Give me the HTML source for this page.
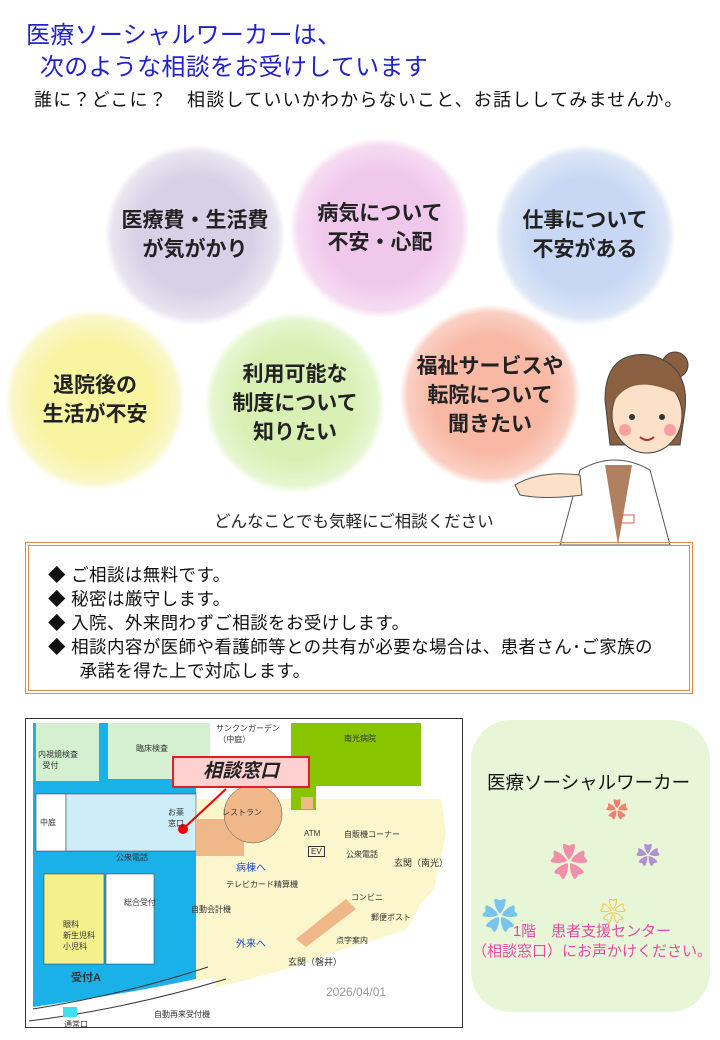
<!DOCTYPE html>
<html><head><meta charset="utf-8"><style>
body{margin:0;width:720px;height:1040px;background:#fff;position:relative;overflow:hidden;font-family:"Liberation Sans","Noto Sans CJK JP",sans-serif}
.a{position:absolute}
.c{position:absolute;border-radius:50%;display:flex;align-items:center;justify-content:center;text-align:center;font-weight:bold;font-size:21px;line-height:29px;color:#222}
.m{position:absolute;font-size:8px;color:#333;white-space:nowrap}
</style></head><body>
<div class="a" style="left:26px;top:20px;font-size:24px;color:#2222cc;line-height:32px;white-space:nowrap;letter-spacing:0.3px">医療ソーシャルワーカーは、<br>&nbsp;&nbsp;次のような相談をお受けしています</div>
<div class="a" style="left:34px;top:86px;font-size:18px;color:#111;white-space:nowrap;letter-spacing:1.2px">誰に？どこに？　相談していいかわからないこと、お話ししてみませんか。</div>

<div class="c" style="left:105px;top:145px;width:180px;height:180px;background:radial-gradient(circle,#d8d0e6 45%,#e8e4f0 65%,rgba(255,255,255,0) 71%)">医療費・生活費<br>が気がかり</div>
<div class="c" style="left:290px;top:138px;width:180px;height:180px;background:radial-gradient(circle,#f0c8ec 45%,#f6dcf2 65%,rgba(255,255,255,0) 71%)">病気について<br>不安・心配</div>
<div class="c" style="left:495px;top:145px;width:180px;height:180px;background:radial-gradient(circle,#c8d8f4 45%,#dce6f6 65%,rgba(255,255,255,0) 71%)">仕事について<br>不安がある</div>
<div class="c" style="left:5px;top:310px;width:180px;height:180px;background:radial-gradient(circle,#f8f4a0 45%,#faf6c8 65%,rgba(255,255,255,0) 71%)">退院後の<br>生活が不安</div>
<div class="c" style="left:205px;top:313px;width:180px;height:180px;background:radial-gradient(circle,#d8f0b4 45%,#e6f6d0 65%,rgba(255,255,255,0) 71%)">利用可能な<br>制度について<br>知りたい</div>
<div class="c" style="left:400px;top:305px;width:180px;height:180px;background:radial-gradient(circle,#f8b8a4 45%,#fad0c4 65%,rgba(255,255,255,0) 71%)">福祉サービスや<br>転院について<br>聞きたい</div>

<!-- nurse -->
<svg class="a" style="left:510px;top:345px" width="210" height="200">
<path d="M50 200 L70 125 Q105 105 140 125 L160 200 Z" fill="#fff" stroke="#555"/>
<path d="M95 120 L108 200 L122 120 Z" fill="#b08060"/>
<rect x="110" y="170" width="14" height="8" fill="none" stroke="#e06040"/>
<path d="M5 140 Q30 125 70 130 L72 150 Q35 155 10 150 Z" fill="#fce0c8" stroke="#555"/>
<circle cx="165" cy="20" r="13" fill="#8a6040" stroke="#444"/>
<path d="M95 55 Q95 5 140 10 Q180 20 175 65 L170 100 L100 100 Z" fill="#8a6040" stroke="#444"/>
<ellipse cx="137" cy="70" rx="35" ry="38" fill="#fce0c8" stroke="#444"/>
<path d="M102 60 Q120 25 170 50 L170 35 Q135 10 102 40Z" fill="#8a6040"/>
<circle cx="122" cy="72" r="3" fill="#333"/><circle cx="152" cy="72" r="3" fill="#333"/>
<circle cx="115" cy="85" r="6" fill="#f8a0a0"/><circle cx="160" cy="85" r="6" fill="#f8a0a0"/>
<path d="M130 92 Q137 98 144 92" fill="none" stroke="#a33" stroke-width="2"/>
</svg>

<div class="a" style="left:214px;top:508px;font-size:16.5px;color:#222;white-space:nowrap">どんなことでも気軽にご相談ください</div>

<div class="a" style="left:25px;top:542px;width:666px;height:150px;border:1px solid #d9894a;"></div>
<div class="a" style="left:28px;top:545px;width:660px;height:144px;border:1px solid #d9894a;"></div>
<div class="a" style="left:48px;top:563px;font-size:17.5px;line-height:24px;color:#111;white-space:nowrap;letter-spacing:0.4px">◆ ご相談は無料です。<br>◆ 秘密は厳守します。<br>◆ 入院、外来問わずご相談をお受けします。<br>◆ 相談内容が医師や看護師等との共有が必要な場合は、患者さん･ご家族の<br>&nbsp;&nbsp;&nbsp;&nbsp;&nbsp;&nbsp;承諾を得た上で対応します。</div>

<!-- map -->
<div class="a" style="left:25px;top:718px;width:436px;height:308px;border:1px solid #333;background:#fff;overflow:hidden">
<svg width="436" height="308" style="position:absolute;left:0;top:0">
<path d="M7 4 L170 4 L170 260 Q100 275 7 288 Z" fill="#1ab0e8"/>
<path d="M170 120 L360 120 Q420 160 380 210 Q300 240 170 262 Z" fill="#fbf6cc"/>
<path d="M170 80 L415 80 L420 115 L408 170 Q360 230 190 268 Z" fill="#fbf6cc"/>
<rect x="10" y="4" width="63" height="58" fill="#d4f0d0"/>
<rect x="82" y="4" width="102" height="56" fill="#d4f0d0"/>
<rect x="265" y="4" width="130" height="63" fill="#88c400"/>
<rect x="265" y="67" width="25" height="24" fill="#88c400"/>
<rect x="10" y="75" width="30" height="57" fill="#fff" stroke="#333" stroke-width=".5"/>
<rect x="40" y="75" width="130" height="57" fill="#cdeef8" stroke="#333" stroke-width=".5"/>
<rect x="18" y="155" width="60" height="90" fill="#f4f08c" stroke="#333" stroke-width=".5"/>
<rect x="80" y="155" width="48" height="90" fill="#fff" stroke="#333" stroke-width=".5"/>
<rect x="170" y="100" width="48" height="37" fill="#f0b888"/>
<circle cx="227" cy="95" r="29" fill="#f0b888" stroke="#555" stroke-width=".5"/>
<path d="M270 220 L320 180 L330 190 L280 228Z" fill="#f0b888"/>
<rect x="275" y="78" width="12" height="12" fill="#f0b888"/>
<path d="M7 290 Q100 275 182 248" stroke="#333" fill="none"/>
<path d="M3 302 Q100 290 200 260" stroke="#333" fill="none"/>
<rect x="37" y="288" width="14" height="10" fill="#40e0f0"/>
<circle cx="157" cy="110" r="5" fill="#e00"/>
<line x1="157" y1="110" x2="200" y2="70" stroke="#e00" stroke-width="2"/>
</svg>
<div class="a" style="left:146px;top:37px;width:134px;height:28px;background:#ffd0d0;border:2px solid #e02020;font-size:19px;font-style:italic;font-weight:bold;text-align:center;line-height:28px;color:#222">相談窓口</div>
<div class="m" style="left:12px;top:30px">内視鏡検査<br>&nbsp;&nbsp;受付</div>
<div class="m" style="left:110px;top:24px">臨床検査</div>
<div class="m" style="left:190px;top:4px">サンクンガーデン<br>&nbsp;（中庭）</div>
<div class="m" style="left:318px;top:14px">南光病院</div>
<div class="m" style="left:14px;top:98px">中庭</div>
<div class="m" style="left:142px;top:88px">お薬<br>窓口</div>
<div class="m" style="left:196px;top:88px">レストラン</div>
<div class="m" style="left:278px;top:110px">ATM</div>
<div class="m" style="left:318px;top:110px">自販機コーナー</div>
<div class="m" style="left:282px;top:127px;border:1px solid #333;padding:0 2px">EV</div>
<div class="m" style="left:90px;top:133px">公衆電話</div>
<div class="m" style="left:320px;top:130px">公衆電話</div>
<div class="m" style="left:368px;top:137px;font-size:9px">玄関（南光）</div>
<div class="m" style="left:210px;top:140px;color:#1a4ad0;font-size:10px">病棟へ</div>
<div class="m" style="left:200px;top:160px">テレビカード精算機</div>
<div class="m" style="left:98px;top:178px">総合受付</div>
<div class="m" style="left:165px;top:185px">自動会計機</div>
<div class="m" style="left:37px;top:200px">眼科<br>新生児科<br>小児科</div>
<div class="m" style="left:325px;top:173px">コンビニ</div>
<div class="m" style="left:345px;top:193px">郵便ポスト</div>
<div class="m" style="left:210px;top:216px;color:#1a4ad0;font-size:10px">外来へ</div>
<div class="m" style="left:310px;top:216px">点字案内</div>
<div class="m" style="left:262px;top:236px;font-size:9px">玄関（磐井）</div>
<div class="m" style="left:45px;top:250px;font-size:11px;font-weight:bold">受付A</div>
<div class="m" style="left:300px;top:266px;font-size:12px;color:#999">2026/04/01</div>
<div class="m" style="left:128px;top:290px">自動再来受付機</div>
<div class="m" style="left:38px;top:300px">通常口</div>
</div>

<div class="a" style="left:471px;top:720px;width:239px;height:292px;background:#e8f6d8;border-radius:40px"></div>
<div class="a" style="left:487px;top:769px;font-size:18.5px;color:#111;white-space:nowrap">医療ソーシャルワーカー</div>
<div class="a" style="left:606px;top:793px;font-size:22px;color:#f08070">✿</div>
<div class="a" style="left:550px;top:832px;font-size:38px;color:#f090a8">✿</div>
<div class="a" style="left:636px;top:836px;font-size:24px;color:#b090d0">✿</div>
<div class="a" style="left:482px;top:888px;font-size:36px;color:#78c4ec">✿</div>
<div class="a" style="left:600px;top:892px;font-size:26px;color:#f0c020">❀</div>
<div class="a" style="left:466px;top:922px;width:252px;text-align:center;font-size:15px;line-height:20px;color:#e84aa8;white-space:nowrap">1階　患者支援センター<br>（相談窓口）にお声かけください。</div>
</body></html>
